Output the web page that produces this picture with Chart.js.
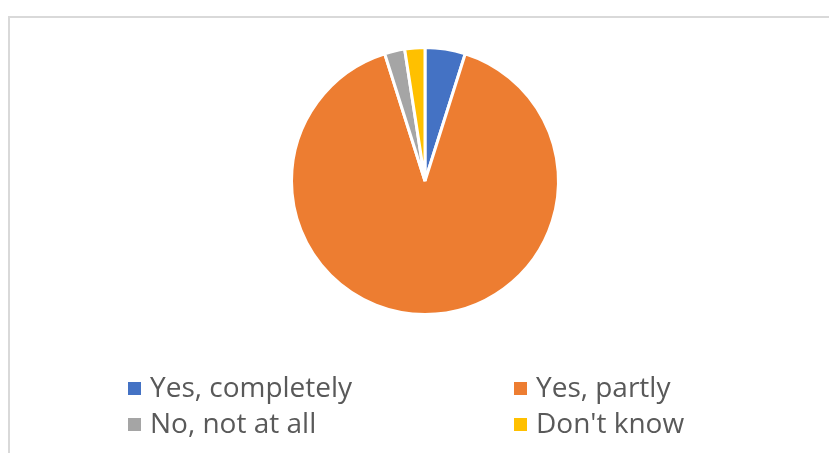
<!DOCTYPE html>
<html>
<head>
<meta charset="utf-8">
<script src="https://cdn.jsdelivr.net/npm/chart.js@4.4.1/dist/chart.umd.min.js"></script>
<style>
  html, body { margin: 0; padding: 0; background: #fff; }
  #wrap { position: relative; width: 829px; height: 453px; }
  canvas { display: block; }
</style>
</head>
<body>
<div id="wrap"><canvas id="pie" width="829" height="453"></canvas></div>
<script>
// answers and counts
const labels = ['Yes, completely', 'Yes, partly', 'No, not at all', "Don't know"];
const counts = [2, 37, 1, 1];
const colors = ['#4472c4', '#ed7d31', '#a5a5a5', '#ffc000'];

// frame around the chart area (left and top edges visible)
const framePlugin = {
  id: 'frame',
  beforeDraw(chart) {
    const ctx = chart.ctx;
    ctx.save();
    ctx.fillStyle = '#d9d9d9';
    ctx.fillRect(8, 16, 2, chart.height - 16);
    ctx.fillRect(8, 16, chart.width - 8, 2);
    ctx.restore();
  }
};

// two-column legend under the pie
const gridLegend = {
  id: 'gridLegend',
  afterDraw(chart) {
    const ctx = chart.ctx;
    const ds = chart.data.datasets[0];
    const colX = [128, 514];
    const rowY = [382, 418];
    ctx.save();
    ctx.font = '28px "Open Sans"';
    ctx.textBaseline = 'alphabetic';
    chart.data.labels.forEach((label, i) => {
      const x = colX[i % 2];
      const y = rowY[Math.floor(i / 2)];
      ctx.fillStyle = ds.backgroundColor[i];
      ctx.fillRect(x, y, 13, 13);
      ctx.fillStyle = '#595959';
      ctx.fillText(label, x + 22, y + 14.5);
    });
    ctx.restore();
  }
};

const ctx = document.getElementById('pie').getContext('2d');
const pieChart = new Chart(ctx, {
  type: 'pie',
  data: {
    labels: labels,
    datasets: [{
      data: counts,
      backgroundColor: colors,
      borderColor: '#ffffff',
      borderWidth: 3,
      hoverOffset: 0
    }]
  },
  options: {
    responsive: false,
    animation: false,
    devicePixelRatio: 1,
    layout: {
      padding: { top: 46, bottom: 137, left: 21, right: 0 }
    },
    plugins: {
      legend: { display: false },
      tooltip: { enabled: false }
    }
  },
  plugins: [framePlugin, gridLegend]
});
</script>
</body>
</html>
